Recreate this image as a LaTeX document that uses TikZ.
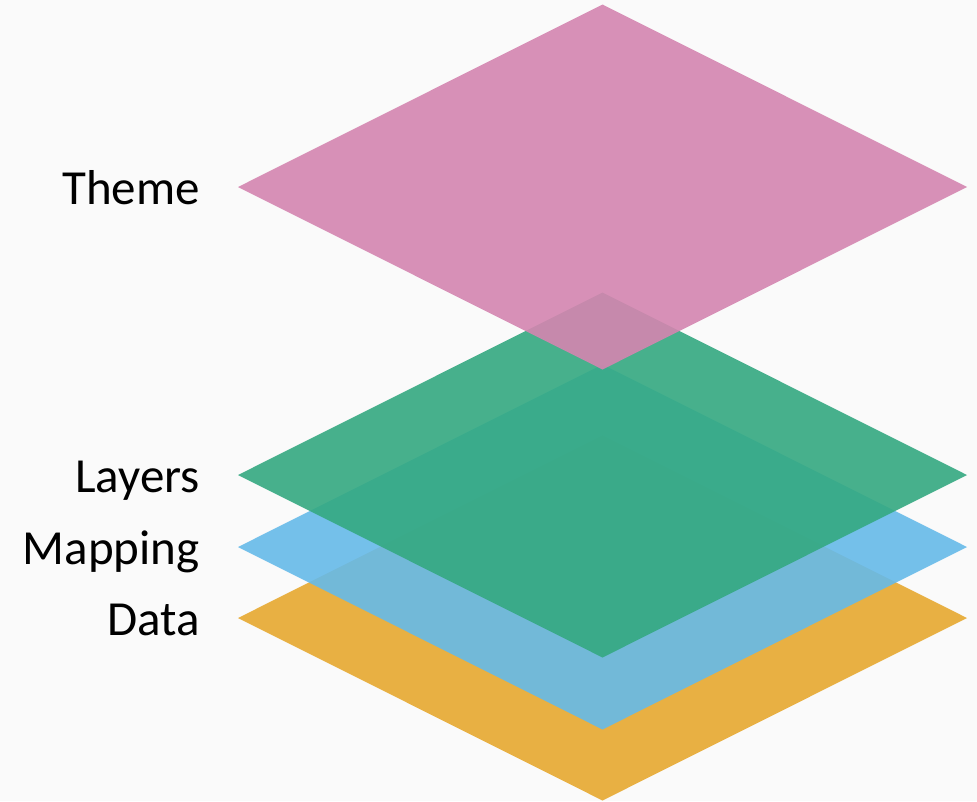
\documentclass[tikz,border=0pt]{standalone}
\usepackage{fontspec}
\setmainfont{Carlito}
\definecolor{bgpaper}{HTML}{FAFAFA}
\definecolor{cdata}{HTML}{E7A930}
\definecolor{cmapping}{HTML}{66BAE9}
\definecolor{clayers}{HTML}{34A981}
\definecolor{ctheme}{HTML}{D485B0}
\begin{document}
\begin{tikzpicture}
			[x=1pt, y=-1pt, line join=round,
			layerlabel/.style={anchor=base east, inner sep=0pt, font=\fontsize{49}{59}\selectfont}]
			\fill[bgpaper] (0,0) rectangle (977,801);
			\useasboundingbox (0,0) rectangle (977,801);
			\foreach \c/\col/\txt in {618/cdata/Data, 547/cmapping/Mapping, 475/clayers/Layers, 187/ctheme/Theme}{
				\fill[\col, fill opacity=.9] (238,\c)--(602.5,\c-182.5)--(967,\c)--(602.5,\c+182.5)--cycle;
				\node[layerlabel] (lbl\txt) at (200,\c+17) {\txt};
			}
		\end{tikzpicture}
\end{document}
